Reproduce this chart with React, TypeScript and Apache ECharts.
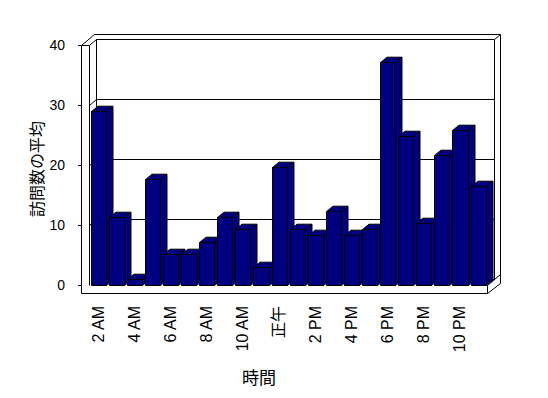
import React, { useEffect, useRef } from 'react';
import * as echarts from 'echarts';

const categories = ['2 AM', '3 AM', '4 AM', '5 AM', '6 AM', '7 AM', '8 AM', '9 AM', '10 AM', '11 AM', '正午', '1 PM', '2 PM', '3 PM', '4 PM', '5 PM', '6 PM', '7 PM', '8 PM', '9 PM', '10 PM', '11 PM'];
const visits = [29.0, 11.3, 1.0, 17.6, 5.1, 5.1, 7.1, 11.3, 9.3, 3.0, 19.6, 9.3, 8.3, 12.3, 8.3, 9.3, 37.1, 24.8, 10.3, 21.6, 25.8, 16.5];
const yMin = 0;
const yMax = 40;
const yInterval = 10;
const gridValues = [10, 20, 30];
const xTitle = '時間';
const yTitle = '訪問数の平均';

const LATIN = '"Liberation Sans", "Noto Sans CJK JP", sans-serif';
const CJK = '"Noto Sans CJK JP", sans-serif';

// 3D frame geometry (pixels)
const DX = 7; // depth of plot box
const DY = -5.5;
const TX = 6; // back wall thickness
const TY = -5;
const LW = 7.5; // left wall thickness
const FT = 8.5; // floor thickness
const BDX = 6.5; // bar depth
const BDY = -5.3;

const c = (v: number) => Math.floor(v) + 0.5;
const stroke = { stroke: '#000', lineWidth: 1, fill: 'none' };
const line = (x1: number, y1: number, x2: number, y2: number) => ({
  type: 'line',
  shape: { x1: c(x1), y1: c(y1), x2: c(x2), y2: c(y2) },
  style: { stroke: '#000', lineWidth: 1 },
  silent: true,
});

function renderFrame(_params: any, api: any) {
  const bw = api.size([1, 0])[0];
  const xl = api.coord([0, yMin])[0] - bw / 2;
  const xr = api.coord([categories.length - 1, yMin])[0] + bw / 2;
  const yb = api.coord([0, yMin])[1];
  const yt = api.coord([0, yMax])[1];
  const children: any[] = [];
  const outer = [
    [xl - LW, yb + FT],
    [xl - LW, yt],
    [xl - LW + DX + TX, yt + DY + TY],
    [xr + DX + TX, yt + DY + TY],
    [xr + DX + TX, yb + FT + DY + TY],
    [xr, yb + FT],
  ].map((p) => [c(p[0]), c(p[1])]);
  children.push({ type: 'polygon', shape: { points: outer }, style: { ...stroke, fill: '#fff' }, silent: true });
  // left wall
  children.push(line(xl - LW, yt, xl, yt));
  children.push(line(xl, yt, xl, yb));
  children.push(line(xl, yt, xl + DX, yt + DY));
  // back wall inner face
  children.push(line(xl + DX, yt + DY, xr + DX, yt + DY));
  children.push(line(xr + DX, yt + DY, xr + DX, yb + DY));
  children.push(line(xl + DX, yt + DY, xl + DX, yb + DY));
  children.push(line(xl + DX, yb + DY, xr + DX, yb + DY));
  children.push(line(xr + DX, yt + DY, xr + DX + TX, yt + DY + TY));
  // floor
  children.push(line(xr, yb, xr + DX + TX, yb + DY + TY));
  children.push(line(xr, yb, xr, yb + FT));
  // gridlines on left and back walls
  gridValues.forEach((v) => {
    const y = api.coord([0, v])[1];
    children.push(line(xl, y, xl + DX, y + DY));
    children.push(line(xl + DX, y + DY, xr + DX, y + DY));
  });
  return { type: 'group', children };
}

function renderBar(_params: any, api: any) {
  const i = api.value(0);
  const v = api.value(1);
  const top = api.coord([i, v]);
  const base = api.coord([i, yMin]);
  const bw = api.size([1, 0])[0];
  const L = c(top[0] - 0.38 * bw);
  const R = c(top[0] - 0.38 * bw + 0.83 * bw);
  const ty = c(top[1]);
  const by = c(base[1]);
  const st = { fill: '#000080', stroke: '#000', lineWidth: 1 };
  return {
    type: 'group',
    children: [
      { type: 'polygon', shape: { points: [[L, ty], [R, ty], [R, by], [L, by]] }, style: st },
      { type: 'polygon', shape: { points: [[L, ty], [R, ty], [R + BDX, ty + BDY], [L + BDX, ty + BDY]] }, style: st },
      { type: 'polygon', shape: { points: [[R, ty], [R + BDX, ty + BDY], [R + BDX, by + BDY], [R, by]] }, style: st },
    ],
  };
}

export default function App() {
  const ref = useRef<HTMLDivElement>(null);
  useEffect(() => {
    if (!ref.current) return;
    const chart = echarts.init(ref.current, null, { renderer: 'svg' });
    chart.setOption({
      animation: false,
      backgroundColor: '#fff',
      grid: { left: 89, top: 45, width: 398, height: 240 },
      xAxis: {
        type: 'category',
        data: categories,
        boundaryGap: true,
        axisLine: { show: true, lineStyle: { color: '#000', width: 1 } },
        axisTick: { show: true, interval: 0, length: FT, lineStyle: { color: '#000' } },
        axisLabel: { interval: 1, rotate: 90, margin: 21, fontSize: 16, color: '#000', fontFamily: LATIN },
        splitLine: { show: false },
      },
      yAxis: {
        type: 'value',
        min: yMin,
        max: yMax,
        interval: yInterval,
        axisLine: { show: false },
        axisTick: { show: true, length: LW + 3.5, lineStyle: { color: '#000' } },
        axisLabel: { margin: 24, fontSize: 14, color: '#000', fontFamily: LATIN },
        splitLine: { show: false },
      },
      graphic: [
        {
          type: 'text',
          x: 36,
          y: 169,
          rotation: Math.PI / 2,
          style: { text: yTitle, align: 'center', verticalAlign: 'middle', fontSize: 16, fill: '#000', fontFamily: CJK },
        },
        {
          type: 'text',
          x: 259,
          y: 376,
          style: { text: xTitle, align: 'center', verticalAlign: 'middle', fontSize: 17, fill: '#000', fontFamily: CJK },
        },
      ],
      series: [
        {
          type: 'custom',
          renderItem: renderFrame,
          data: [[0, 0]],
          encode: { x: 0, y: 1 },
          clip: false,
          silent: true,
          z: 1,
        },
        {
          type: 'custom',
          renderItem: renderBar,
          data: visits.map((v, i) => [i, v]),
          encode: { x: 0, y: 1 },
          clip: false,
          z: 2,
        },
      ],
    });
    return () => chart.dispose();
  }, []);
  return <div ref={ref} style={{ position: 'fixed', left: 0, top: 0, width: 548, height: 398 }} />;
}
